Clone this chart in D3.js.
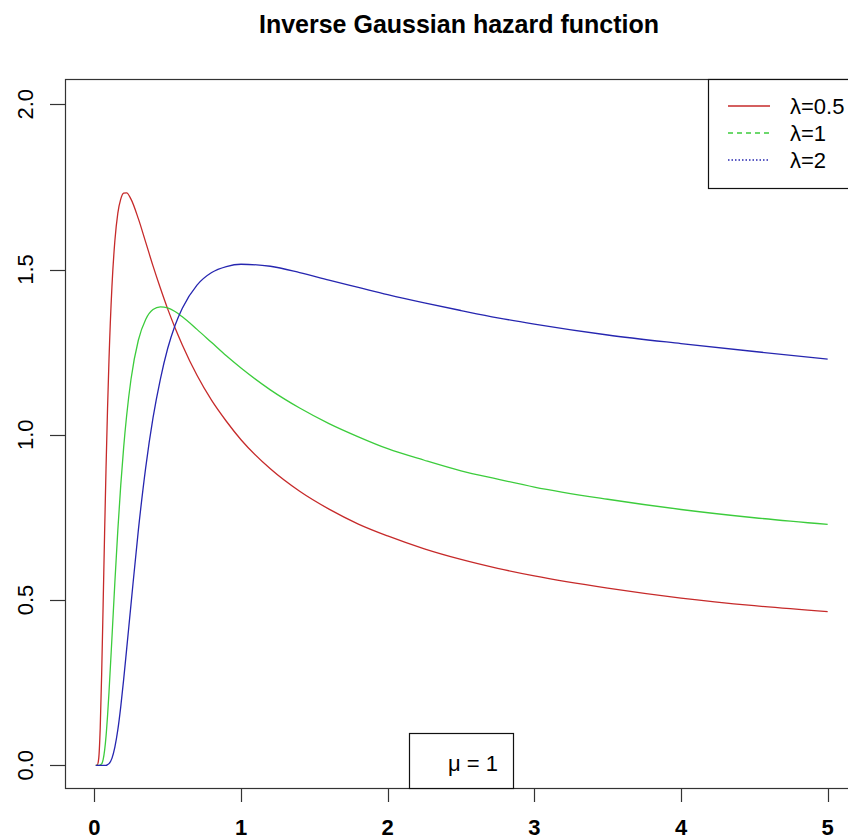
<!DOCTYPE html>
<html>
<head>
<meta charset="utf-8">
<script src="https://cdn.jsdelivr.net/npm/d3@7/dist/d3.min.js"></script>
<style>
  html, body { margin: 0; padding: 0; background: #fff; }
  svg { display: block; }
  text { font-family: "Liberation Sans", Arial, sans-serif; fill: #000; }
</style>
</head>
<body>
<svg id="chart" width="848" height="840"></svg>
<script>
// Inverse Gaussian hazard h(x) for mu = 1 and three shape values
const xValues = [0.01, 0.02, 0.03, 0.04, 0.05, 0.06, 0.07, 0.08, 0.09, 0.10,
  0.12, 0.14, 0.16, 0.18, 0.20, 0.22, 0.25, 0.30, 0.35, 0.40, 0.45, 0.50,
  0.55, 0.60, 0.70, 0.80, 0.90, 1.0, 1.2, 1.4, 1.6, 1.8, 2.0, 2.25, 2.5,
  2.75, 3.0, 3.5, 4.0, 4.5, 5.0];

const hazardLambda05 = [0.000, 0.001, 0.021, 0.111, 0.277, 0.486, 0.703, 0.903, 1.079, 1.228,
  1.448, 1.587, 1.670, 1.713, 1.731, 1.732, 1.713, 1.654, 1.583, 1.511, 1.444, 1.381,
  1.324, 1.272, 1.180, 1.104, 1.041, 0.985, 0.897, 0.829, 0.775, 0.730, 0.694, 0.655, 0.623,
  0.596, 0.573, 0.536, 0.506, 0.483, 0.465];

const hazardLambda1 = [0.000, 0.000, 0.000, 0.001, 0.004, 0.017, 0.045, 0.089, 0.149, 0.221,
  0.385, 0.554, 0.710, 0.847, 0.962, 1.057, 1.168, 1.286, 1.349, 1.379, 1.387, 1.384,
  1.373, 1.357, 1.319, 1.279, 1.239, 1.202, 1.136, 1.081, 1.034, 0.994, 0.958, 0.923, 0.891,
  0.866, 0.842, 0.805, 0.774, 0.749, 0.729];

const hazardLambda2 = [0.000, 0.000, 0.000, 0.000, 0.000, 0.000, 0.000, 0.000, 0.002, 0.005,
  0.021, 0.055, 0.107, 0.177, 0.260, 0.350, 0.487, 0.711, 0.900, 1.051, 1.168, 1.261,
  1.331, 1.383, 1.453, 1.491, 1.509, 1.516, 1.510, 1.491, 1.468, 1.446, 1.424, 1.399, 1.376,
  1.354, 1.335, 1.302, 1.276, 1.252, 1.229];

const seriesLabels = ["λ=0.5", "λ=1", "λ=2"];
const xTicks = [0, 1, 2, 3, 4, 5];
const yTicks = [0, 0.5, 1, 1.5, 2];
const yTickLabels = ["0.0", "0.5", "1.0", "1.5", "2.0"];
const titleText = "Inverse Gaussian hazard function";
const noteText = "μ = 1";

const colors = ["#c62a2a", "#3ccc3c", "#2626b0"];
const legendDash = [null, "5,4", "1.5,2"];

const svg = d3.select("#chart");

// plot region (axis ranges padded around the data like base graphics)
const plotLeft = 65, plotRight = 857, plotTop = 79, plotBottom = 788;
const x = d3.scaleLinear().domain([-0.2, 5.2]).range([plotLeft, plotRight]);
const y = d3.scaleLinear().domain([0, 2]).range([765.3, 104.3]);

// title
svg.append("text")
  .attr("x", (plotLeft + plotRight) / 2 - 2)
  .attr("y", 33)
  .attr("text-anchor", "middle")
  .style("font-size", "25px")
  .style("font-weight", "bold")
  .text(titleText);

// curves
const series = [hazardLambda05, hazardLambda1, hazardLambda2];
const line = d3.line()
  .x((d, i) => x(xValues[i]))
  .y(d => y(d))
  .curve(d3.curveMonotoneX);

const curves = svg.append("g");
series.forEach((vals, k) => {
  curves.append("path")
    .datum(vals)
    .attr("d", line)
    .attr("fill", "none")
    .attr("stroke", colors[k])
    .attr("stroke-width", 1.3)
    .attr("stroke-linejoin", "round");
});

// plot box
svg.append("rect")
  .attr("x", plotLeft + 0.5)
  .attr("y", plotTop + 0.5)
  .attr("width", plotRight - plotLeft)
  .attr("height", plotBottom - plotTop)
  .attr("fill", "none")
  .attr("stroke", "#333")
  .attr("stroke-width", 1.2);

// x axis ticks and labels
const xAxis = svg.append("g");
xAxis.selectAll("line").data(xTicks).join("line")
  .attr("x1", d => Math.round(x(d)) + 0.5)
  .attr("x2", d => Math.round(x(d)) + 0.5)
  .attr("y1", plotBottom)
  .attr("y2", plotBottom + 14)
  .attr("stroke", "#333")
  .attr("stroke-width", 1.2);
xAxis.selectAll("text").data(xTicks).join("text")
  .attr("x", d => x(d))
  .attr("y", 835)
  .attr("text-anchor", "middle")
  .style("font-size", "22px")
  .style("font-weight", "bold")
  .text(d => d3.format("d")(d));

// y axis ticks and rotated labels
const yAxis = svg.append("g");
yAxis.selectAll("line").data(yTicks).join("line")
  .attr("x1", plotLeft - 15)
  .attr("x2", plotLeft)
  .attr("y1", d => Math.round(y(d)) + 0.5)
  .attr("y2", d => Math.round(y(d)) + 0.5)
  .attr("stroke", "#333")
  .attr("stroke-width", 1.2);
yAxis.selectAll("text").data(yTicks).join("text")
  .attr("transform", d => `translate(33,${y(d)}) rotate(-90)`)
  .attr("text-anchor", "middle")
  .style("font-size", "22px")
  .text((d, i) => yTickLabels[i]);

// legend, top right
const legend = svg.append("g");
legend.append("rect")
  .attr("x", 708.5).attr("y", plotTop + 0.5)
  .attr("width", plotRight - 708).attr("height", 188 - plotTop)
  .attr("fill", "#fff").attr("stroke", "#111").attr("stroke-width", 1.2);
const rowY = [106, 133, 160];
seriesLabels.forEach((lab, k) => {
  legend.append("line")
    .attr("x1", 728).attr("x2", 770)
    .attr("y1", rowY[k]).attr("y2", rowY[k])
    .attr("stroke", colors[k])
    .attr("stroke-width", 1.3)
    .attr("stroke-dasharray", legendDash[k]);
  legend.append("text")
    .attr("x", 790).attr("y", rowY[k] + 8)
    .style("font-size", "22px")
    .text(lab);
});

// parameter note at the bottom
const note = svg.append("g");
note.append("rect")
  .attr("x", 409.5).attr("y", 733.5)
  .attr("width", 104).attr("height", plotBottom - 733)
  .attr("fill", "#fff").attr("stroke", "#111").attr("stroke-width", 1.2);
note.append("text")
  .attr("x", 448).attr("y", 771)
  .style("font-size", "22px")
  .text(noteText);
</script>
</body>
</html>
